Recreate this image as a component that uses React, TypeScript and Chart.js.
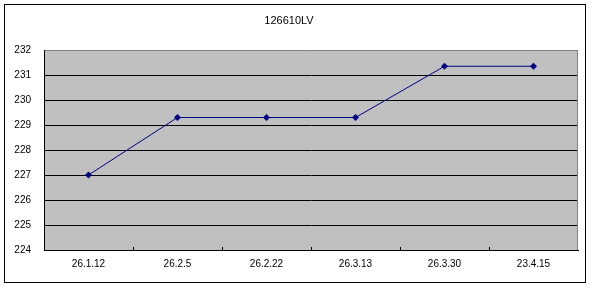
import { useEffect, useRef } from 'react';
import { Chart, registerables } from 'chart.js';

Chart.register(...registerables);

const title = '126610LV';
const categories = ['26.1.12', '26.2.5', '26.2.22', '26.3.13', '26.3.30', '23.4.15'];
const values = [227, 229.3, 229.3, 229.3, 231.35, 231.35];
const yMin = 224;
const yMax = 232;
const yStep = 1;

const FONT = "'Liberation Sans', Arial, sans-serif";

const framePlugin = {
  id: 'frame',
  beforeDraw(chart: any) {
    const { ctx, width, height, chartArea: a } = chart;
    ctx.save();
    ctx.fillStyle = '#ffffff';
    ctx.fillRect(0, 0, width, height);
    ctx.strokeStyle = '#000000';
    ctx.lineWidth = 1;
    ctx.strokeRect(4.5, 4.5, 581, 278);
    ctx.fillStyle = '#c0c0c0';
    ctx.fillRect(a.left, a.top, a.right - a.left, a.bottom - a.top);
    ctx.restore();
  },
  beforeDatasetsDraw(chart: any) {
    const { ctx, chartArea: a } = chart;
    const xs = chart.scales.x;
    ctx.save();
    ctx.lineWidth = 1;
    ctx.strokeStyle = '#808080';
    ctx.beginPath();
    ctx.moveTo(a.right - 0.5, a.top);
    ctx.lineTo(a.right - 0.5, a.bottom);
    ctx.stroke();
    ctx.strokeStyle = '#000000';
    ctx.beginPath();
    for (let i = 0; i < categories.length - 1; i++) {
      const bx = (xs.getPixelForTick(i) + xs.getPixelForTick(i + 1)) / 2;
      const px = Math.round(bx - 0.5) + 0.5;
      ctx.moveTo(px, a.bottom);
      ctx.lineTo(px, a.bottom - 3);
    }
    ctx.stroke();
    ctx.restore();
  },
};

export default function App() {
  const ref = useRef<HTMLCanvasElement | null>(null);
  useEffect(() => {
    document.body.style.margin = '0';
    const canvas = ref.current;
    if (!canvas) return;
    const chart = new Chart(canvas, {
      type: 'line',
      data: {
        labels: categories,
        datasets: [
          {
            data: values,
            borderColor: '#000080',
            backgroundColor: '#000080',
            borderWidth: 1,
            pointStyle: 'rectRot',
            pointRadius: 3.5,
            pointBorderWidth: 0,
            tension: 0,
          },
        ],
      },
      options: {
        responsive: false,
        animation: false,
        devicePixelRatio: 1,
        events: [],
        layout: { padding: { left: 0, right: 14, top: 0, bottom: 0 } },
        plugins: {
          legend: { display: false },
          tooltip: { enabled: false },
          title: {
            display: true,
            text: title,
            color: '#000000',
            font: { family: FONT, size: 11, weight: 'normal', lineHeight: 1.2 },
            padding: { top: 14.4, bottom: 22.4 },
          },
        },
        scales: {
          x: {
            type: 'category',
            offset: true,
            grid: { display: false, drawTicks: false },
            border: { display: true, color: '#000000', width: 1 },
            ticks: {
              color: '#000000',
              font: { family: FONT, size: 10 },
              padding: 8,
              maxRotation: 0,
              autoSkip: false,
            },
            afterFit(scale: any) {
              scale.height = 38;
            },
          },
          y: {
            min: yMin,
            max: yMax,
            grid: {
              drawTicks: false,
              lineWidth: 1,
              color: (c: any) => (c.tick && c.tick.value === yMax ? '#808080' : '#000000'),
            },
            border: { display: true, color: '#000000', width: 1 },
            ticks: {
              stepSize: yStep,
              color: '#000000',
              font: { family: FONT, size: 10 },
              padding: 13,
            },
            afterFit(scale: any) {
              scale.width = 44;
            },
          },
        },
      },
      plugins: [framePlugin],
    });
    return () => chart.destroy();
  }, []);
  return <canvas ref={ref} width={592} height={288} style={{ display: 'block' }} />;
}
